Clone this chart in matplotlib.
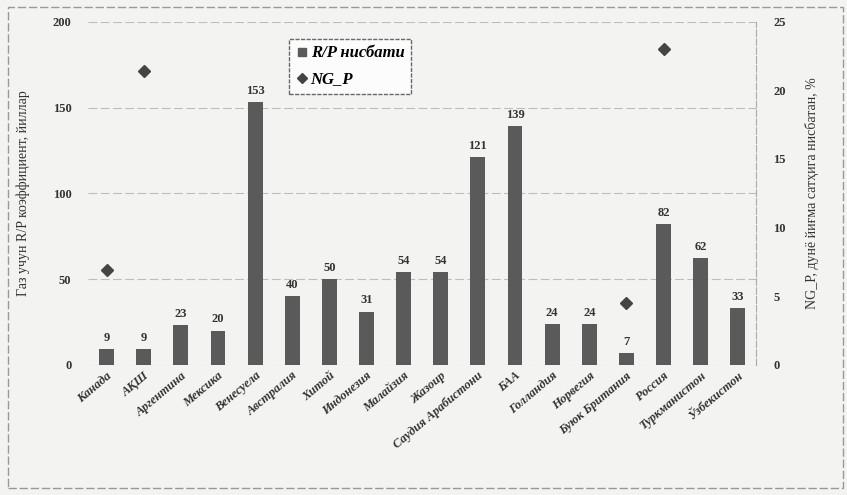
import numpy as np
import matplotlib
matplotlib.use("Agg")
import matplotlib.pyplot as plt
from matplotlib.lines import Line2D
from matplotlib.patches import Rectangle

countries = ["Канада", "АҚШ", "Аргентина", "Мексика", "Венесуела", "Австралия",
             "Хитой", "Индонезия", "Малайзия", "Жазоир", "Саудия Арабистони", "БАА",
             "Голландия", "Норвегия", "Буюк Британия", "Россия", "Туркманистон",
             "Ўзбекистон"]
rp_ratio = [9, 9, 23, 20, 153, 40, 50, 31, 54, 54, 121, 139, 24, 24, 7, 82, 62, 33]
ng_p = [6.9, 21.4, np.nan, np.nan, np.nan, np.nan, np.nan, np.nan, np.nan, np.nan,
        np.nan, np.nan, np.nan, np.nan, 4.5, 23.0, 2.0, np.nan]

plt.rcParams['font.family'] = ['Liberation Serif', 'DejaVu Serif']
bg = '#f3f3f1'
bar_col = '#5a5a5a'

fig = plt.figure(figsize=(8.47, 4.95), dpi=100, facecolor=bg)
ax = fig.add_axes([0.104, 0.263, 0.789, 0.693], facecolor=bg)
ax2 = ax.twinx()
# bars go in front of the diamonds
ax2.set_facecolor(bg)
ax.set_zorder(ax2.get_zorder() + 1)
ax.patch.set_visible(False)

x = np.arange(len(countries))
ax.bar(x, rp_ratio, width=0.4, color=bar_col, zorder=2)
for xi, v in zip(x, rp_ratio):
    ax.text(xi, v + 3, str(v), ha='center', va='bottom', fontsize=9,
            fontweight='bold', color='#333333')

ax2.plot(x, ng_p, linestyle='none', marker='D', markersize=6,
         color='#444444', zorder=3)

ax.set_ylim(0, 200)
ax.set_yticks([0, 50, 100, 150, 200])
ax2.set_ylim(0, 25)
ax2.set_yticks([0, 5, 10, 15, 20, 25])
ax.set_xlim(-0.5, len(countries) - 0.5)

ax2.yaxis.grid(False)
ax.yaxis.grid(True, color='#bdbdbd', linewidth=0.8, linestyle=(0, (8, 3)))
ax.set_axisbelow(True)

ax.set_xticks(x)
ax.set_xticklabels(countries, rotation=40, ha='right', rotation_mode='anchor',
                   fontsize=10, fontweight='bold', fontstyle='italic', color='#333333')
for a in (ax, ax2):
    a.tick_params(length=0, labelsize=9, colors='#333333')
    for lab in a.get_yticklabels():
        lab.set_fontweight('bold')
    for side in ('top', 'left', 'bottom'):
        a.spines[side].set_visible(False)
ax.spines['right'].set_visible(False)
ax.tick_params(axis='y', pad=12)
ax2.tick_params(axis='y', pad=12)
ax2.spines['right'].set_color('#aaaaaa')
ax2.spines['right'].set_linestyle((0, (6, 2)))
ax2.spines['right'].set_linewidth(0.8)
ax.axhline(0, color='#999999', linewidth=0.6, zorder=1)

ax.set_ylabel("Газ учун R/P коэффициент, йиллар", fontsize=10, color='#333333', labelpad=16)
ax2.set_ylabel("NG_P, дунё йиғма сатҳига нисбатан, %", fontsize=10,
               color='#333333', labelpad=14)

handles = [Line2D([], [], linestyle='none', marker='s', markersize=6, color=bar_col),
           Line2D([], [], linestyle='none', marker='D', markersize=5, color='#444444')]
leg = ax.legend(handles, ["R/P нисбати", "NG_P"], loc='upper left',
                bbox_to_anchor=(0.288, 0.975), frameon=True, fancybox=False,
                handletextpad=0.1, handlelength=0.8, borderpad=0.4, labelspacing=0.6,
                prop={'weight': 'bold', 'style': 'italic', 'size': 12})
leg.get_frame().set_edgecolor('#444444')
leg.get_frame().set_linestyle((0, (3, 1)))
leg.get_frame().set_facecolor('white')

# outer frame around the whole chart
fig.patches.append(Rectangle((0.01, 0.015), 0.985, 0.97, transform=fig.transFigure,
                             fill=False, edgecolor='#999999', linewidth=1.0,
                             linestyle=(0, (6, 2))))

fig.savefig("out.png", dpi=100, facecolor=bg)
